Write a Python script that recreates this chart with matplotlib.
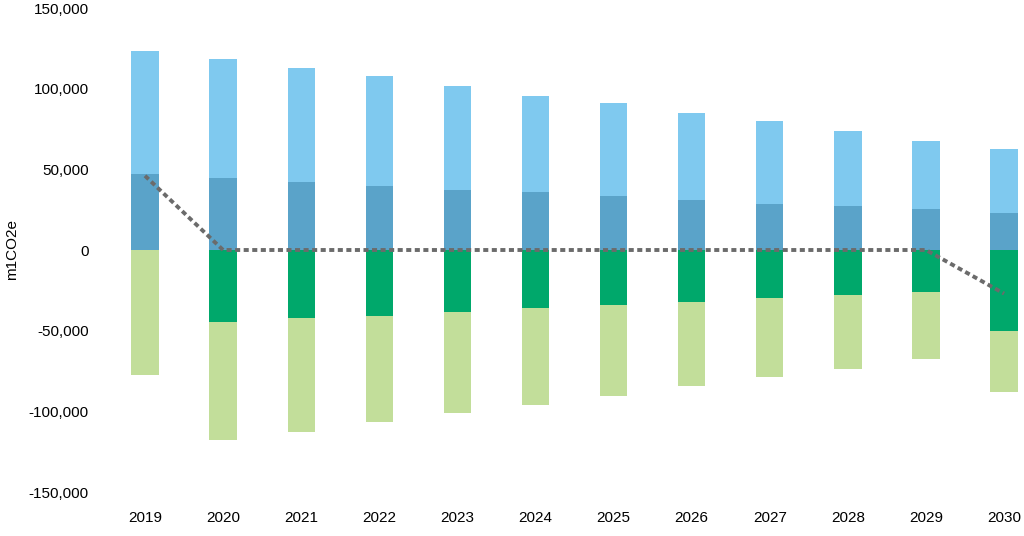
import matplotlib.pyplot as plt
import numpy as np

plt.rcParams['font.family'] = ['Liberation Sans', 'DejaVu Sans']

years = ['2019', '2020', '2021', '2022', '2023', '2024', '2025', '2026', '2027', '2028', '2029', '2030']
# positive side (stacked upward)
dark_blue = [47000, 44600, 42200, 39700, 37200, 36000, 33500, 31000, 28500, 27500, 25200, 22700]
light_blue = [76400, 73800, 70600, 68200, 64500, 59500, 57600, 53900, 51500, 46300, 42400, 39900]
# negative side (stacked downward)
dark_green = [0, -44600, -42200, -41000, -38400, -36000, -34100, -32200, -29800, -27900, -26000, -50000]
light_green = [-77500, -73200, -70600, -65600, -62600, -60100, -56400, -52100, -48900, -45700, -41400, -38000]
net = [46000, 0, 0, 0, 0, 0, 0, 0, 0, 0, 0, -27000]

fig = plt.figure(figsize=(10.24, 5.36), dpi=100)
ax = fig.add_axes([100/1024, 44/536, 924/1024, 484/536])

x = np.arange(len(years))
w = 0.35
ax.bar(x, dark_blue, w, color='#5AA3C9')
ax.bar(x, light_blue, w, bottom=dark_blue, color='#7FC9EF')
ax.bar(x, dark_green, w, color='#00A86B')
ax.bar(x, light_green, w, bottom=dark_green, color='#C2DE9A')
ax.plot(x, net, color='#6B6B6B', linewidth=2.8, linestyle=(0, (1.3, 0.9)))

ax.set_ylim(-150000, 150000)
ax.set_xlim(-0.576, 11.255)
ax.set_yticks(np.arange(-150000, 150001, 50000))
ax.set_yticklabels(['{:,}'.format(v) for v in np.arange(-150000, 150001, 50000)])
ax.set_xticks(x)
ax.set_xticklabels(years)
ax.tick_params(length=0, labelsize=11)
ax.tick_params(axis='x', pad=14)
ax.tick_params(axis='y', pad=8)
for s in ax.spines.values():
    s.set_visible(False)
ax.set_ylabel('m1CO2e', fontsize=11)
ax.yaxis.set_label_coords(-0.088, 0.5)

fig.savefig('out.png', dpi=100)
